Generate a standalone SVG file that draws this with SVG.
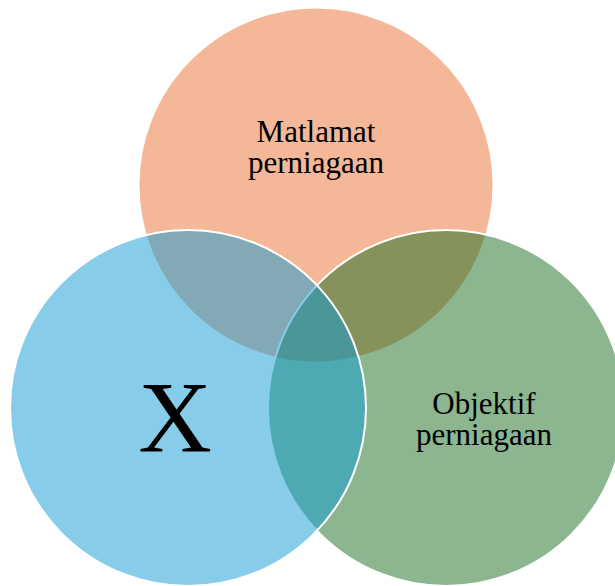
<svg xmlns="http://www.w3.org/2000/svg" width="615" height="586" viewBox="0 0 615 586">
  <style>
    .c { stroke: #ffffff; stroke-width: 2; }
    .t { font-family: "Liberation Serif", "Times New Roman", serif; fill: #000000; text-anchor: middle; }
  </style>
  <rect width="615" height="586" fill="#ffffff"/>
  <g id="top">
    <circle class="c" cx="316" cy="185" r="177.5" fill="#F4B797"/>
  </g>
  <g id="right">
    <circle class="c" cx="446" cy="408" r="178" fill="#176D21" fill-opacity="0.5"/>
  </g>
  <g id="left">
    <circle class="c" cx="188" cy="408" r="178" fill="#0F9BD3" fill-opacity="0.5"/>
  </g>
  <g id="connectors"></g>
  <g id="labels">
    <text class="t" font-size="31"><tspan x="316" y="142">Matlamat</tspan><tspan x="316" y="173">perniagaan</tspan></text>
    <text class="t" font-size="31"><tspan x="484" y="414">Objektif</tspan><tspan x="484" y="445">perniagaan</tspan></text>
    <text class="t" x="175" y="452" font-size="102">X</text>
  </g>
</svg>
